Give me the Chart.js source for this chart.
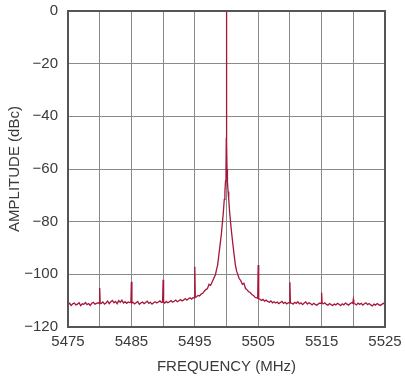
<!DOCTYPE html>
<html>
<head>
<meta charset="utf-8">
<script src="https://cdn.jsdelivr.net/npm/chart.js@4/dist/chart.umd.min.js"></script>
<style>
  html, body { margin: 0; padding: 0; background: #ffffff; }
  #wrap { width: 405px; height: 380px; }
</style>
</head>
<body>
<div id="wrap"><canvas id="c" width="405" height="380"></canvas></div>
<script>
// ---- data ----
const xTickLabels = [5475, 5485, 5495, 5505, 5515, 5525];
const yTickValues = [0, -20, -40, -60, -80, -100, -120];
const xTitle = 'FREQUENCY (MHz)';
const yTitle = 'AMPLITUDE (dBc)';

// [frequency MHz, amplitude dBc]
const spectrum = [
  [5475.00,-111.5],[5475.25,-111.0],[5475.50,-111.8],[5475.75,-111.2],[5476.00,-110.9],
  [5476.25,-111.6],[5476.50,-111.3],[5476.75,-110.8],[5477.00,-111.9],[5477.25,-111.2],
  [5477.50,-111.4],[5477.75,-110.7],[5478.00,-111.5],[5478.25,-111.1],[5478.50,-111.8],
  [5478.75,-111.0],[5479.00,-110.6],[5479.25,-111.3],[5479.50,-111.0],[5479.75,-110.8],
  [5479.92,-110.9],[5480.00,-105.2],[5480.08,-111.1],
  [5480.25,-111.0],[5480.50,-110.5],[5480.75,-111.3],[5481.00,-110.9],[5481.25,-110.2],
  [5481.50,-111.1],[5481.75,-110.4],[5482.00,-109.9],[5482.25,-110.8],[5482.50,-110.3],
  [5482.75,-111.2],[5483.00,-110.0],[5483.25,-110.6],[5483.50,-109.8],[5483.75,-110.9],
  [5484.00,-110.4],[5484.25,-111.0],[5484.50,-110.5],[5484.75,-110.7],
  [5484.92,-110.6],[5485.00,-102.8],[5485.08,-110.9],
  [5485.25,-110.6],[5485.50,-111.2],[5485.75,-110.8],[5486.00,-110.3],[5486.25,-111.4],
  [5486.50,-110.9],[5486.75,-110.5],[5487.00,-111.1],[5487.25,-110.7],[5487.50,-110.2],
  [5487.75,-111.0],[5488.00,-110.6],[5488.25,-111.3],[5488.50,-110.8],[5488.75,-110.4],
  [5489.00,-110.9],[5489.25,-110.5],[5489.50,-110.1],[5489.75,-110.7],
  [5489.92,-110.5],[5490.00,-102.1],[5490.08,-110.6],
  [5490.25,-110.9],[5490.50,-110.3],[5490.75,-110.8],[5491.00,-110.4],[5491.25,-110.0],
  [5491.50,-110.6],[5491.75,-110.2],[5492.00,-109.8],[5492.25,-110.4],[5492.50,-110.0],
  [5492.75,-109.6],[5493.00,-110.1],[5493.25,-109.7],[5493.50,-109.2],[5493.75,-109.8],
  [5494.00,-109.3],[5494.25,-108.9],[5494.50,-109.4],[5494.75,-108.8],
  [5494.92,-108.9],[5495.00,-97.1],[5495.08,-108.7],
  [5495.25,-108.6],[5495.50,-108.0],[5495.75,-108.2],[5496.00,-107.5],[5496.25,-107.2],
  [5496.50,-106.4],[5496.75,-105.8],[5497.00,-105.4],[5497.25,-103.8],[5497.50,-104.2],
  [5497.75,-102.8],[5498.00,-101.5],[5498.25,-100.2],[5498.40,-98.5],[5498.60,-96.5],
  [5498.80,-92.5],[5499.00,-88.5],[5499.20,-84.5],[5499.35,-80.5],[5499.50,-76.5],
  [5499.65,-71.5],[5499.75,-68.5],[5499.85,-64.5],[5499.92,-60.0],[5499.97,-48.0],
  [5500.00,0.0],
  [5500.03,-50.0],[5500.08,-60.0],[5500.15,-65.0],[5500.25,-68.5],[5500.35,-71.5],
  [5500.50,-76.5],[5500.65,-80.5],[5500.80,-84.0],[5501.00,-88.5],[5501.20,-92.5],
  [5501.40,-96.5],[5501.60,-98.8],[5501.80,-100.2],[5502.00,-101.6],[5502.25,-102.4],
  [5502.50,-103.8],[5502.75,-103.4],[5503.00,-105.4],[5503.25,-105.9],[5503.50,-106.6],
  [5503.75,-106.9],[5504.00,-107.7],[5504.25,-108.0],[5504.50,-108.7],[5504.75,-108.9],
  [5504.92,-109.1],[5505.00,-96.5],[5505.08,-109.3],
  [5505.25,-109.4],[5505.50,-109.9],[5505.75,-109.5],[5506.00,-110.2],[5506.25,-109.8],
  [5506.50,-110.3],[5506.75,-110.6],[5507.00,-110.1],[5507.25,-110.8],[5507.50,-110.4],
  [5507.75,-110.9],[5508.00,-110.5],[5508.25,-111.1],[5508.50,-110.7],[5508.75,-110.3],
  [5509.00,-111.0],[5509.25,-110.6],[5509.50,-111.2],[5509.75,-110.8],
  [5509.92,-110.7],[5510.00,-103.0],[5510.08,-110.9],
  [5510.25,-110.9],[5510.50,-111.3],[5510.75,-110.6],[5511.00,-111.0],[5511.25,-110.4],
  [5511.50,-111.2],[5511.75,-110.8],[5512.00,-111.5],[5512.25,-110.9],[5512.50,-110.5],
  [5512.75,-111.3],[5513.00,-110.8],[5513.25,-111.1],[5513.50,-111.6],[5513.75,-111.0],
  [5514.00,-111.4],[5514.25,-111.7],[5514.50,-111.2],[5514.75,-110.9],
  [5514.92,-111.0],[5515.00,-106.9],[5515.08,-111.1],
  [5515.25,-111.2],[5515.50,-110.8],[5515.75,-111.4],[5516.00,-111.7],[5516.25,-111.1],
  [5516.50,-111.5],[5516.75,-111.8],[5517.00,-111.3],[5517.25,-111.6],[5517.50,-111.0],
  [5517.75,-111.4],[5518.00,-111.9],[5518.25,-111.2],[5518.50,-111.6],[5518.75,-110.9],
  [5519.00,-111.3],[5519.25,-111.7],[5519.50,-111.1],[5519.75,-110.8],
  [5519.92,-111.0],[5520.00,-109.6],[5520.08,-111.1],
  [5520.25,-111.2],[5520.50,-111.6],[5520.75,-110.9],[5521.00,-111.4],[5521.25,-111.0],
  [5521.50,-111.7],[5521.75,-111.2],[5522.00,-110.8],[5522.25,-111.5],[5522.50,-111.1],
  [5522.75,-111.6],[5523.00,-112.0],[5523.25,-111.3],[5523.50,-111.7],[5523.75,-111.1],
  [5524.00,-111.5],[5524.25,-111.8],[5524.50,-111.4],[5524.75,-111.0],[5525.00,-111.3]
];

// ---- chart ----
const FONT = "'Liberation Sans', Arial, sans-serif";
const TEXT = '#3a3a3a';

const frame = {
  id: 'frame',
  afterDatasetsDraw(chart) {
    const a = chart.chartArea, ctx = chart.ctx;
    ctx.save();
    ctx.strokeStyle = '#555555';
    ctx.lineWidth = 2;
    ctx.strokeRect(a.left, a.top, a.right - a.left, a.bottom - a.top);
    ctx.restore();
  }
};

new Chart(document.getElementById('c'), {
  type: 'line',
  data: {
    datasets: [{
      data: spectrum.map(p => ({ x: p[0], y: p[1] })),
      borderColor: '#a3173a',
      borderWidth: 1.3,
      pointRadius: 0,
      tension: 0,
      fill: false
    }]
  },
  options: {
    responsive: false,
    animation: false,
    devicePixelRatio: 1,
    layout: { padding: { top: 11, right: 20, left: 0, bottom: 0 } },
    plugins: { legend: { display: false }, tooltip: { enabled: false } },
    scales: {
      x: {
        type: 'linear',
        min: 5475, max: 5525,
        afterFit(s) { s.height = 53; s.paddingLeft = 0; s.paddingRight = 0; },
        grid: { color: '#8a8a8a', lineWidth: 1, drawTicks: false },
        border: { display: false },
        ticks: {
          stepSize: 5,
          autoSkip: false,
          maxRotation: 0,
          padding: 6,
          color: TEXT,
          font: { family: FONT, size: 15 },
          callback: v => xTickLabels.includes(v) ? String(v) : ''
        },
        title: {
          display: true, text: xTitle, color: TEXT,
          font: { family: FONT, size: 15 },
          padding: { top: 1, bottom: 4 }
        }
      },
      y: {
        min: -120, max: 0,
        afterFit(s) { s.width = 68; s.paddingTop = 0; s.paddingBottom = 0; },
        grid: { color: '#8a8a8a', lineWidth: 1, drawTicks: false },
        border: { display: false },
        ticks: {
          stepSize: 20,
          autoSkip: false,
          padding: 10,
          color: TEXT,
          font: { family: FONT, size: 15 },
          callback: v => yTickValues.includes(v) ? (v < 0 ? '\u2212' + Math.abs(v) : String(v)) : ''
        },
        title: {
          display: true, text: yTitle, color: TEXT,
          font: { family: FONT, size: 15 },
          padding: { top: 6, bottom: 0 }
        }
      }
    }
  },
  plugins: [frame]
});
</script>
</body>
</html>
